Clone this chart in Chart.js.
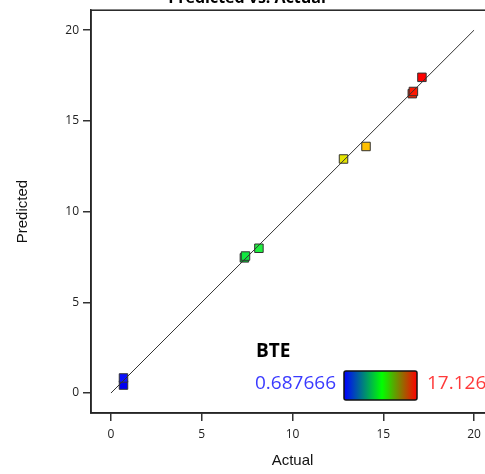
<!DOCTYPE html>
<html>
<head>
<meta charset="utf-8">
<script src="https://cdn.jsdelivr.net/npm/chart.js@4/dist/chart.umd.min.js"></script>
<style>
  html, body { margin: 0; padding: 0; background: #fff; overflow: hidden; width: 485px; height: 474px; }
  #wrap { position: absolute; left: 0; top: -20px; width: 584px; height: 494px; }
</style>
</head>
<body>
<div id="wrap"><canvas id="pva"></canvas></div>
<script>
// BTE: predicted vs actual
const actual    = [0.69, 0.69, 7.35, 7.41, 8.15, 12.81, 14.05, 16.60, 16.66, 17.13];
const predicted = [0.44, 0.83, 7.45, 7.55, 7.98, 12.90, 13.59, 16.50, 16.62, 17.40];
const pointColors = ["#0000f0", "#0a10ff", "#00c830", "#10e840", "#20f040", "#e4e400", "#ffc000", "#ff2400", "#ff1800", "#ff0000"];
const tickValues = [0, 5, 10, 15, 20];
const refLine = [0, 20];
const legendTitle = "BTE";
const legendMin = "0.687666";
const legendMax = "17.126";

const FONT = "'Open Sans', 'DejaVu Sans', sans-serif";
const AXFONT = "'Liberation Sans', Arial, sans-serif";

const boxPlugin = {
  id: "box",
  afterDraw(chart) {
    const { ctx, chartArea: a } = chart;
    ctx.save();
    ctx.strokeStyle = "#222";
    ctx.lineWidth = 1.5;
    ctx.strokeRect(a.left, a.top, a.right - a.left, a.bottom - a.top);

    // colour bar legend
    ctx.fillStyle = "#000";
    ctx.font = "bold 19px " + FONT;
    ctx.textBaseline = "middle";
    ctx.fillText(legendTitle, 256, 372);
    ctx.font = "19px " + FONT;
    ctx.fillStyle = "#3a3aff";
    ctx.fillText(legendMin, 255, 404);
    ctx.fillStyle = "#ff3a3a";
    ctx.fillText(legendMax, 427, 404);

    const bx = 344, by = 391, bw = 73, bh = 29;
    const g = ctx.createLinearGradient(bx, 0, bx + bw, 0);
    g.addColorStop(0, "#0000ff");
    g.addColorStop(0.52, "#00ff00");
    g.addColorStop(1, "#ff0000");
    ctx.fillStyle = g;
    ctx.beginPath();
    ctx.roundRect(bx, by, bw, bh, 2);
    ctx.fill();
    ctx.lineWidth = 1.5;
    ctx.strokeStyle = "#111";
    ctx.stroke();
    ctx.restore();
  }
};

const pinTicks = (scale) => { scale.ticks = tickValues.map(v => ({ value: v })); };

new Chart(document.getElementById("pva"), {
  data: {
    datasets: [
      {
        type: "line",
        data: refLine.map(v => ({ x: v, y: v })),
        borderColor: "#333",
        borderWidth: 1,
        pointRadius: 0,
        order: 1
      },
      {
        type: "scatter",
        data: actual.map((a, i) => ({ x: a, y: predicted[i] })),
        pointStyle: "rect",
        pointRadius: 6,
        pointHoverRadius: 6,
        backgroundColor: pointColors,
        borderColor: "#333",
        borderWidth: 1,
        order: 2
      }
    ]
  },
  options: {
    responsive: true,
    maintainAspectRatio: false,
    animation: false,
    layout: { padding: { left: 0, right: 90, top: 0, bottom: 0 } },
    plugins: {
      legend: { display: false },
      tooltip: { enabled: false },
      title: {
        display: true,
        text: "Predicted vs. Actual",
        color: "#000",
        font: { family: FONT, size: 16, weight: "bold" },
        padding: { top: 9, bottom: 2 }
      }
    },
    scales: {
      x: {
        type: "linear",
        min: -1.1,
        max: 21.1,
        afterBuildTicks: pinTicks,
        afterFit(s) { s.height = 61; },
        ticks: { includeBounds: false, color: "#222", font: { family: FONT, size: 12 }, padding: 6 },
        grid: { drawOnChartArea: false, drawTicks: true, tickLength: 8, color: "#333", lineWidth: 1.5 },
        border: { display: true, color: "#333", width: 1.5 },
        title: { display: true, text: "Actual", color: "#111", font: { family: AXFONT, size: 15 }, padding: { top: 3 } }
      },
      y: {
        type: "linear",
        min: -1.1,
        max: 21.1,
        afterBuildTicks: pinTicks,
        afterFit(s) { s.width = 91; },
        ticks: { includeBounds: false, color: "#222", font: { family: FONT, size: 12 }, padding: 4 },
        grid: { drawOnChartArea: false, drawTicks: true, tickLength: 8, color: "#333", lineWidth: 1.5 },
        border: { display: true, color: "#333", width: 1.5 },
        title: { display: true, text: "Predicted", color: "#111", font: { family: AXFONT, size: 15 }, padding: { top: 14, bottom: 4 } }
      }
    }
  },
  plugins: [boxPlugin]
});
</script>
</body>
</html>
